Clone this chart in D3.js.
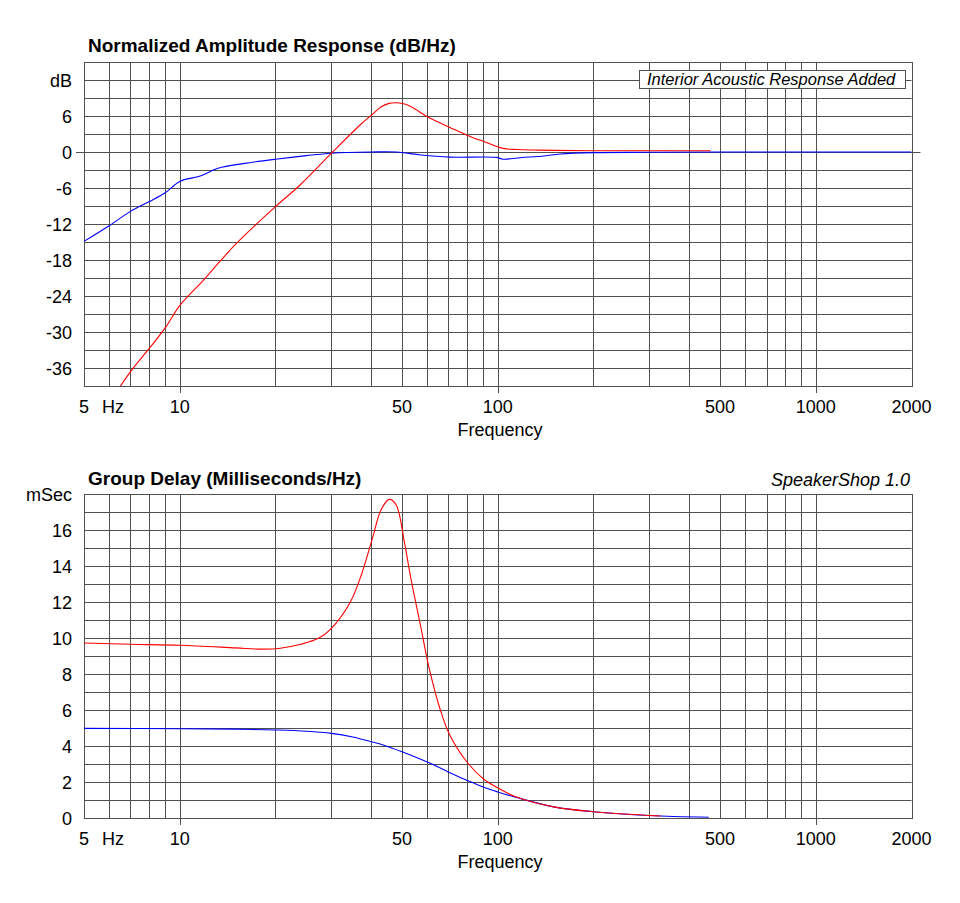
<!DOCTYPE html>
<html>
<head>
<meta charset="utf-8">
<script src="https://cdn.jsdelivr.net/npm/d3@7"></script>
<style>
  html, body { margin: 0; padding: 0; background: #fff; }
  svg { display: block; font-family: "Liberation Sans", Arial, sans-serif; }
</style>
</head>
<body>
<svg id="chart" width="960" height="903"></svg>
<script>
// ---------- DATA ----------
// Frequency axis
const freqTickLabels = [5, 10, 50, 100, 500, 1000, 2000];
const freqGrid = [6, 7, 8, 9, 10, 20, 30, 40, 50, 60, 70, 80, 90, 100, 200, 300, 400, 500, 600, 700, 800, 900, 1000];
const freqMajorTicks = [10, 100, 1000];

// Amplitude chart (dB)
const ampGrid = [-36, -33, -30, -27, -24, -21, -18, -15, -12, -9, -6, -3, 0, 3, 6, 9, 12];
const ampLabelValues = [12, 6, 0, -6, -12, -18, -24, -30, -36];
const ampLabelTexts = ["dB", "6", "0", "-6", "-12", "-18", "-24", "-30", "-36"];

// Red: with interior acoustic response added
const ampRedFreq = [6.4, 7.07, 8.03, 9.06, 10, 11.9, 13.4, 15.1, 20, 23.9, 30, 36.9, 40.2, 42.9, 45.5, 48.2, 51, 54, 59.9, 65, 70.7, 80, 92, 104, 115, 130, 150, 200, 300, 467];
const ampRedDb   = [-39.6, -36.3, -32.7, -29.1, -25.6, -21.3, -18.2, -15.2, -9.1, -5.5, -0.2, 4.5, 6.2, 7.5, 8.1, 8.2, 8.0, 7.4, 5.9, 5.0, 4.1, 2.8, 1.6, 0.6, 0.42, 0.33, 0.27, 0.22, 0.2, 0.2];
// Blue: driver/box response
const ampBlueFreq = [5, 6, 7, 8, 9, 10, 11.6, 13.2, 16, 20, 25, 30, 40, 48, 57.4, 70.7, 99, 104, 118, 140, 157, 200, 300, 500, 1000, 2000];
const ampBlueDb   = [-14.9, -12.3, -9.9, -8.3, -6.8, -4.9, -4.0, -2.7, -1.9, -1.2, -0.6, -0.2, 0, 0, -0.5, -0.85, -0.9, -1.2, -0.95, -0.67, -0.33, -0.1, -0.05, 0, 0, 0];

// Group delay chart (ms)
const gdGrid = [0, 1, 2, 3, 4, 5, 6, 7, 8, 9, 10, 11, 12, 13, 14, 15, 16, 17, 18];
const gdLabelValues = [18, 16, 14, 12, 10, 8, 6, 4, 2, 0];
const gdLabelTexts = ["mSec", "16", "14", "12", "10", "8", "6", "4", "2", "0"];

const gdRedFreq = [5, 7, 10, 15, 18, 20.7, 24, 27.3, 30, 34.4, 37.4, 40.6, 42.9, 45.6, 47.9, 50.9, 53.2, 57.3, 60.9, 66, 70.7, 80.6, 90.4, 100.6, 114, 150, 200, 325];
const gdRedMs   = [9.72, 9.65, 9.6, 9.45, 9.38, 9.43, 9.65, 9.98, 10.54, 12.0, 13.6, 15.7, 17.1, 17.7, 17.4, 15.3, 13.4, 10.6, 8.3, 6.0, 4.6, 3.04, 2.15, 1.65, 1.18, 0.62, 0.35, 0.11];
const gdBlueFreq = [5, 10, 15, 20, 25, 30, 35, 40, 43.6, 50, 61.3, 70.7, 80.6, 90, 100, 114, 150, 200, 300, 461];
const gdBlueMs   = [4.98, 4.96, 4.94, 4.89, 4.82, 4.7, 4.5, 4.24, 4.06, 3.68, 3.04, 2.52, 2.07, 1.72, 1.45, 1.15, 0.62, 0.35, 0.14, 0.04];

// ---------- DRAWING ----------
const svg = d3.select("#chart");
const gridColor = "#505050";
const font = 18;

const x = d3.scaleLog().domain([5, 2000]).range([84, 911.5]);

function drawPanel(opts) {
  const { y, top, bottom, grid, labelValues, labelTexts, title, series, clipId, zeroLine } = opts;
  const left = x.range()[0], right = x.range()[1];
  const g = svg.append("g");
  const cr = v => Math.round(v) + 0.5;

  // clip
  svg.append("clipPath").attr("id", clipId)
    .append("rect").attr("x", left).attr("y", top).attr("width", right - left).attr("height", bottom - top);

  // horizontal grid
  g.selectAll("line.h").data(grid).enter().append("line")
    .attr("x1", left).attr("x2", right)
    .attr("y1", d => cr(y(d))).attr("y2", d => cr(y(d)))
    .attr("stroke", gridColor).attr("stroke-width", 1);

  // vertical grid
  g.selectAll("line.v").data(freqGrid).enter().append("line")
    .attr("x1", d => cr(x(d))).attr("x2", d => cr(x(d)))
    .attr("y1", top).attr("y2", bottom)
    .attr("stroke", gridColor).attr("stroke-width", 1);

  // frame
  g.append("rect").attr("x", cr(left)).attr("y", cr(top))
    .attr("width", Math.round(right) - Math.round(left)).attr("height", Math.round(bottom) - Math.round(top))
    .attr("fill", "none").attr("stroke", gridColor).attr("stroke-width", 1);

  // major ticks below axis
  g.selectAll("line.t").data(freqMajorTicks).enter().append("line")
    .attr("x1", d => cr(x(d))).attr("x2", d => cr(x(d)))
    .attr("y1", bottom).attr("y2", bottom + 7)
    .attr("stroke", gridColor).attr("stroke-width", 1);

  if (zeroLine) {
    g.append("line").attr("x1", left - 8).attr("x2", right + 9)
      .attr("y1", cr(y(0))).attr("y2", cr(y(0)))
      .attr("stroke", gridColor).attr("stroke-width", 1);
  }

  // y labels
  g.selectAll("text.yl").data(labelValues).enter().append("text")
    .attr("x", 72).attr("y", d => y(d) + 6.5)
    .attr("text-anchor", "end").attr("font-size", font).attr("fill", "#000")
    .text((d, i) => labelTexts[i]);

  // x labels
  g.selectAll("text.xl").data(freqTickLabels).enter().append("text")
    .attr("x", d => x(d)).attr("y", bottom + 27)
    .attr("text-anchor", "middle").attr("font-size", font).attr("fill", "#000")
    .text(d => d);
  g.append("text").attr("x", 102).attr("y", bottom + 27)
    .attr("font-size", font).attr("fill", "#000").text("Hz");
  g.append("text").attr("x", 500).attr("y", bottom + 50)
    .attr("text-anchor", "middle").attr("font-size", font).attr("fill", "#000").text("Frequency");

  // title
  g.append("text").attr("x", 88).attr("y", title.y)
    .attr("font-size", 19).attr("font-weight", "bold").attr("fill", "#000").text(title.text);

  // series
  const line = d3.line().x(d => x(d[0])).y(d => y(d[1])).curve(d3.curveCatmullRom.alpha(0.5));
  series.forEach(s => {
    g.append("path").datum(d3.zip(s.f, s.v))
      .attr("d", line).attr("fill", "none")
      .attr("stroke", s.color).attr("stroke-width", 1.1)
      .attr("clip-path", `url(#${clipId})`);
  });
  return g;
}

// Top panel: amplitude
const yAmp = d3.scaleLinear().domain([-39, 15]).range([386, 62]);
drawPanel({
  y: yAmp, top: 62, bottom: 386,
  grid: ampGrid, labelValues: ampLabelValues, labelTexts: ampLabelTexts,
  title: { text: "Normalized Amplitude Response (dB/Hz)", y: 52 },
  series: [
    { f: ampBlueFreq, v: ampBlueDb, color: "#0000ff" },
    { f: ampRedFreq, v: ampRedDb, color: "#ff0000" }
  ],
  clipId: "clipTop", zeroLine: true
});

// Legend box
const lg = svg.append("g");
lg.append("rect").attr("x", 639.5).attr("y", 70.5).attr("width", 266).attr("height", 18)
  .attr("fill", "#fff").attr("stroke", gridColor).attr("stroke-width", 1);
lg.append("text").attr("x", 647).attr("y", 85).attr("font-size", 16.5)
  .attr("font-style", "italic").attr("fill", "#000").text("Interior Acoustic Response Added");

// Bottom panel: group delay
const yGd = d3.scaleLinear().domain([0, 18]).range([818, 494]);
drawPanel({
  y: yGd, top: 494, bottom: 818,
  grid: gdGrid, labelValues: gdLabelValues, labelTexts: gdLabelTexts,
  title: { text: "Group Delay (Milliseconds/Hz)", y: 485 },
  series: [
    { f: gdBlueFreq, v: gdBlueMs, color: "#0000ff" },
    { f: gdRedFreq, v: gdRedMs, color: "#ff0000" }
  ],
  clipId: "clipBot", zeroLine: false
});

svg.append("text").attr("x", 910).attr("y", 486).attr("text-anchor", "end")
  .attr("font-size", 18).attr("font-style", "italic").attr("fill", "#000").text("SpeakerShop 1.0");
</script>
</body>
</html>
